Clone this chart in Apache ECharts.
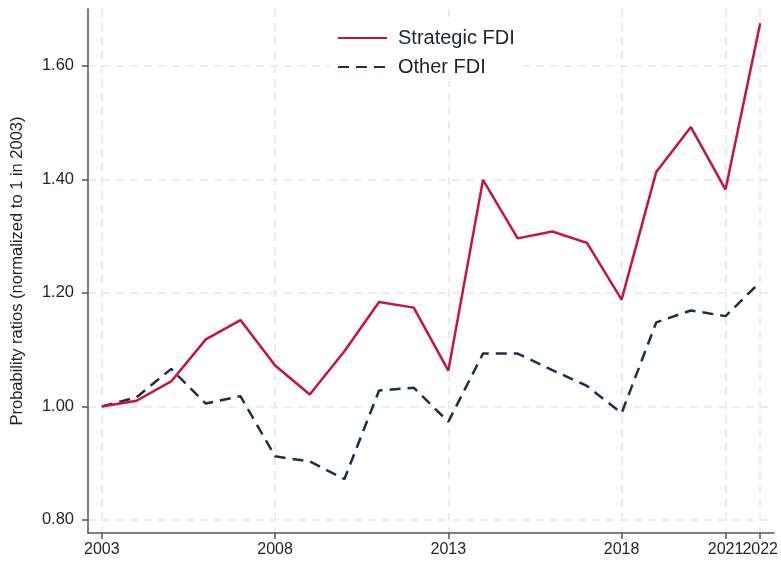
<!DOCTYPE html>
<html>
<head>
<meta charset="utf-8">
<script src="https://cdn.jsdelivr.net/npm/echarts@6/dist/echarts.min.js"></script>
<style>
  html, body { margin: 0; padding: 0; background: #fff; }
  #chart { width: 781px; height: 566px; }
</style>
</head>
<body>
<div id="chart"></div>
<script>
// years and values
const years = [2003, 2004, 2005, 2006, 2007, 2008, 2009, 2010, 2011, 2012,
               2013, 2014, 2015, 2016, 2017, 2018, 2019, 2020, 2021, 2022];
const strategicFDI = [1.000, 1.010, 1.044, 1.118, 1.152, 1.072, 1.021, 1.097, 1.184, 1.174,
                      1.063, 1.399, 1.296, 1.308, 1.288, 1.188, 1.413, 1.492, 1.382, 1.675];
const otherFDI = [1.000, 1.016, 1.066, 1.005, 1.018, 0.912, 0.903, 0.872, 1.028, 1.033,
                  0.973, 1.093, 1.093, 1.064, 1.036, 0.988, 1.148, 1.169, 1.159, 1.219];
const xTicks = [2003, 2008, 2013, 2018, 2021];
const xTicksEnd = [2022];   // drawn on a second axis so it isn't dropped as overlapping
const yTicks = [0.8, 1.0, 1.2, 1.4, 1.6];

const chart = echarts.init(document.getElementById('chart'));

const font = 'Liberation Sans, Arial, sans-serif';
const textColor = '#1e2230';
const axisColor = '#555';
const gridLine = { show: true, lineStyle: { color: '#e6e6e6', width: 1.5, type: [8, 6] } };

const xLabel = {
  hideOverlap: false,
  fontFamily: font, fontSize: 16, color: textColor, margin: 9,
  formatter: v => String(v)
};

const option = {
  animation: false,
  grid: { left: 88, right: 6, top: 9, bottom: 33 },
  legend: {
    orient: 'vertical',
    left: 330,
    top: 24,
    itemWidth: 49,
    itemHeight: 14,
    itemGap: 9,
    padding: [4, 8, 4, 7],
    backgroundColor: '#fff',
    itemStyle: { opacity: 0 },
    textStyle: { fontFamily: font, fontSize: 20, color: textColor, padding: [0, 0, 0, 6] },
    data: ['Strategic FDI', 'Other FDI']
  },
  xAxis: [
    {
      type: 'value',
      min: 2002.6,
      max: 2022.4,
      axisLine: { show: true, lineStyle: { color: axisColor, width: 1.5 } },
      axisTick: { show: true, length: 6, customValues: xTicks, lineStyle: { color: axisColor, width: 1.5 } },
      axisLabel: Object.assign({ customValues: xTicks }, xLabel),
      splitLine: gridLine
    },
    {
      type: 'value',
      position: 'bottom',
      min: 2002.6,
      max: 2022.4,
      axisLine: { show: false },
      axisTick: { show: true, length: 6, customValues: xTicksEnd, lineStyle: { color: axisColor, width: 1.5 } },
      axisLabel: Object.assign({ customValues: xTicksEnd }, xLabel),
      splitLine: gridLine
    }
  ],
  yAxis: {
    type: 'value',
    min: 0.777,
    max: 1.70,
    name: 'Probability ratios (normalized to 1 in 2003)',
    nameLocation: 'middle',
    nameRotate: 90,
    nameGap: 62,
    nameTextStyle: { fontFamily: font, fontSize: 16.5, color: textColor },
    axisLine: { show: true, lineStyle: { color: axisColor, width: 1.5 } },
    axisTick: { show: true, length: 6, customValues: yTicks, lineStyle: { color: axisColor, width: 1.5 } },
    axisLabel: {
      customValues: yTicks,
      fontFamily: font, fontSize: 16.5, color: textColor, margin: 14,
      formatter: v => v.toFixed(2)
    },
    splitLine: gridLine
  },
  series: [
    {
      name: 'Strategic FDI',
      type: 'line',
      symbol: 'none',
      data: years.map((y, i) => [y, strategicFDI[i]]),
      lineStyle: { color: '#c8143c', width: 2.5 },
      itemStyle: { color: '#c8143c' },
      z: 3
    },
    {
      name: 'Other FDI',
      type: 'line',
      symbol: 'none',
      data: years.map((y, i) => [y, otherFDI[i]]),
      lineStyle: { color: '#1f2d4d', width: 2.5, type: [11, 7] },
      itemStyle: { color: '#1f2d4d' },
      z: 2
    }
  ]
};

chart.setOption(option);
</script>
</body>
</html>
